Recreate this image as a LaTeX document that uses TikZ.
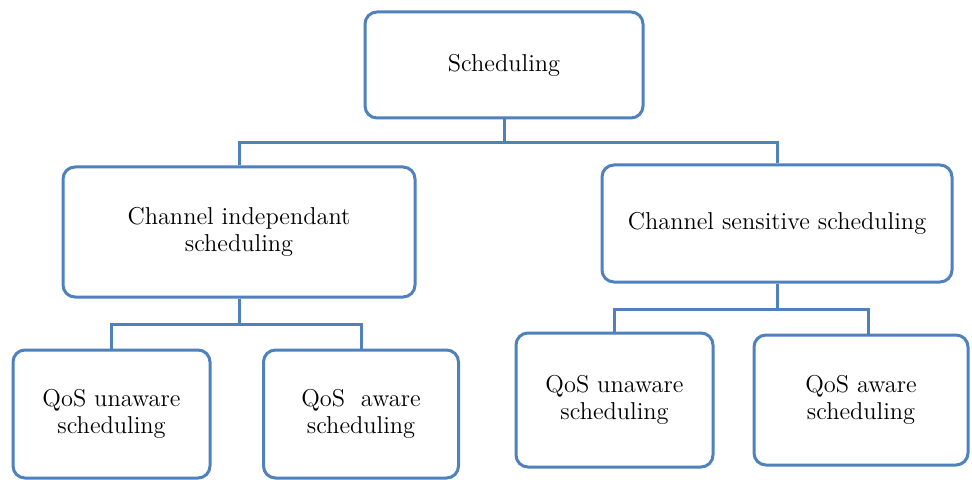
\documentclass[tikz,border=0pt]{standalone}
\usepackage{tikz}
\usetikzlibrary{positioning}

\definecolor{boxblue}{RGB}{79,129,189}

\tikzset{
  schedbox/.style={draw=boxblue, line width=1.5pt, rounded corners=6pt, fill=white,
    align=center, inner sep=2pt, font=\fontsize{12.2}{13.5}\selectfont},
  link/.style={draw=boxblue, line width=1.5pt}
}

\begin{document}
\begin{tikzpicture}[x=0.5pt, y=-0.5pt]
\useasboundingbox (0,0) rectangle (972,480);
\fill[white] (0,0) rectangle (972,480);
\node[schedbox, minimum width=139pt, minimum height=53pt] (root) at (504,65) {Scheduling};
\node[schedbox, minimum width=176pt, minimum height=65pt] (indep) at (239,232) {Channel independant\\scheduling};
\node[schedbox, minimum width=175pt, minimum height=58.5pt] (sens) at (777,223.5) {Channel sensitive scheduling};
\node[schedbox, minimum width=98.5pt, minimum height=64pt] (unawareA) at (111.5,414) {QoS unaware\\scheduling};
\node[schedbox, minimum width=97.5pt, minimum height=64pt] (awareA) at (361,414) {QoS\ \ aware\\scheduling};
\node[schedbox, minimum width=98.5pt, minimum height=67pt] (unawareB) at (614.5,400) {QoS unaware\\scheduling};
\node[schedbox, minimum width=107pt, minimum height=65pt] (awareB) at (861,400) {QoS aware\\scheduling};
% elbow connectors
\coordinate (busA) at (504,143);
\coordinate (busB) at (239,324);
\coordinate (busC) at (777,309);
\draw[link] (root.south) -- (busA) -| (indep.north);
\draw[link] (busA) -| (sens.north);
\draw[link] (indep.south) -- (busB) -| (unawareA.north);
\draw[link] (busB) -| (awareA.north);
\draw[link] (sens.south) -- (busC) -| (unawareB.north);
\draw[link] (busC) -| ([xshift=3.5pt]awareB.north);
\end{tikzpicture}
\end{document}
